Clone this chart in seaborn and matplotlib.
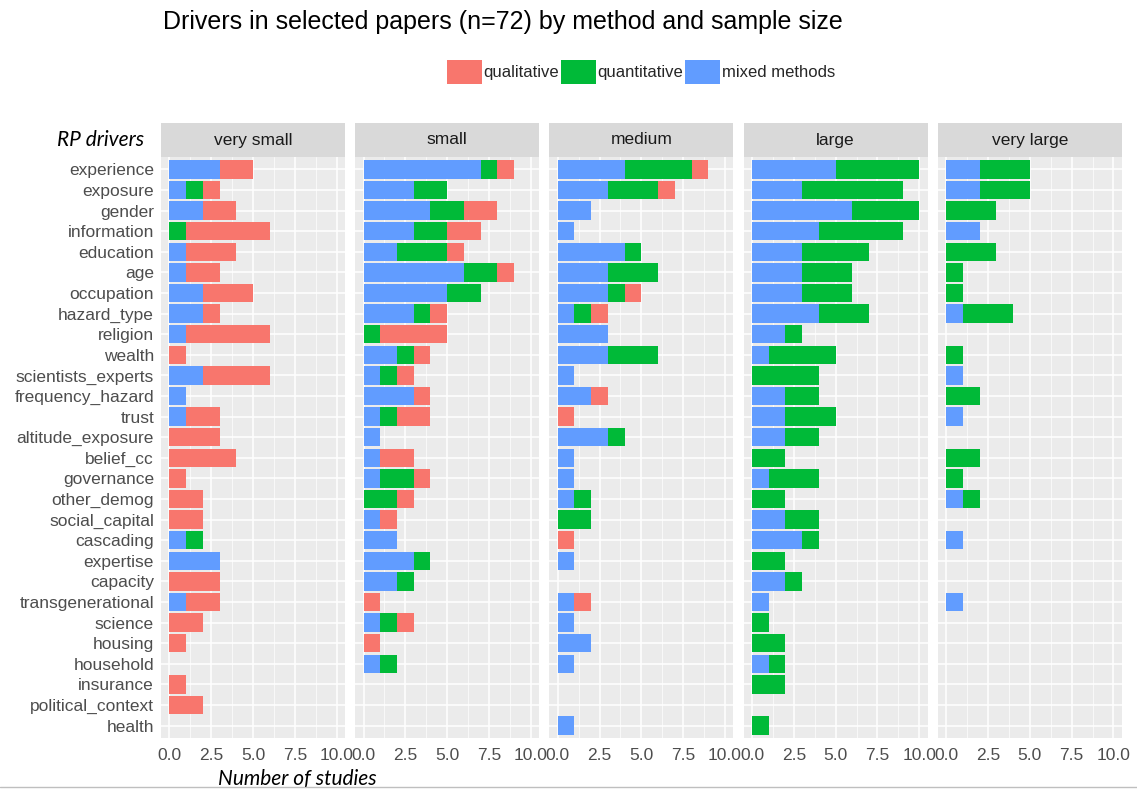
import matplotlib
matplotlib.use("Agg")
import matplotlib.pyplot as plt
import seaborn as sns
import pandas as pd
from matplotlib.patches import Patch
from matplotlib.lines import Line2D
from matplotlib.ticker import MultipleLocator

# categories
drivers = ['experience', 'exposure', 'gender', 'information', 'education', 'age',
           'occupation', 'hazard_type', 'religion', 'wealth', 'scientists_experts',
           'frequency_hazard', 'trust', 'altitude_exposure', 'belief_cc', 'governance',
           'other_demog', 'social_capital', 'cascading', 'expertise', 'capacity',
           'transgenerational', 'science', 'housing', 'household', 'insurance',
           'political_context', 'health']
sizes = ['very small', 'small', 'medium', 'large', 'very large']
methods = ['qualitative', 'quantitative', 'mixed methods']
x_ticks = [0.0, 2.5, 5.0, 7.5, 10.0]

# number of studies per driver (same order as drivers)
vsmall_mixed = [3, 1, 2, 0, 1, 1, 2, 2, 1, 0, 2, 1, 1, 0, 0, 0, 0, 0, 1, 3, 0, 1, 0, 0, 0, 0, 0, 0]
vsmall_quant = [0, 1, 0, 1, 0, 0, 0, 0, 0, 0, 0, 0, 0, 0, 0, 0, 0, 0, 1, 0, 0, 0, 0, 0, 0, 0, 0, 0]
vsmall_qual  = [2, 1, 2, 5, 3, 2, 3, 1, 5, 1, 4, 0, 2, 3, 4, 1, 2, 2, 0, 0, 3, 2, 2, 1, 0, 1, 2, 0]

small_mixed = [7, 3, 4, 3, 2, 6, 5, 3, 0, 2, 1, 3, 1, 1, 1, 1, 0, 1, 2, 3, 2, 0, 1, 0, 1, 0, 0, 0]
small_quant = [1, 2, 2, 2, 3, 2, 2, 1, 1, 1, 1, 0, 1, 0, 0, 2, 2, 0, 0, 1, 1, 0, 1, 0, 1, 0, 0, 0]
small_qual  = [1, 0, 2, 2, 1, 1, 0, 1, 4, 1, 1, 1, 2, 0, 2, 1, 1, 1, 0, 0, 0, 1, 1, 1, 0, 0, 0, 0]

medium_mixed = [4, 3, 2, 1, 4, 3, 3, 1, 3, 3, 1, 2, 0, 3, 1, 1, 1, 0, 0, 1, 0, 1, 1, 2, 1, 0, 0, 1]
medium_quant = [4, 3, 0, 0, 1, 3, 1, 1, 0, 3, 0, 0, 0, 1, 0, 0, 1, 2, 0, 0, 0, 0, 0, 0, 0, 0, 0, 0]
medium_qual  = [1, 1, 0, 0, 0, 0, 1, 1, 0, 0, 0, 1, 1, 0, 0, 0, 0, 0, 1, 0, 0, 1, 0, 0, 0, 0, 0, 0]

large_mixed = [5, 3, 6, 4, 3, 3, 3, 4, 2, 1, 0, 2, 2, 2, 0, 1, 0, 2, 3, 0, 2, 1, 0, 0, 1, 0, 0, 0]
large_quant = [5, 6, 4, 5, 4, 3, 3, 3, 1, 4, 4, 2, 3, 2, 2, 3, 2, 2, 1, 2, 1, 0, 1, 2, 1, 2, 0, 1]
large_qual  = [0] * 28

vlarge_mixed = [2, 2, 0, 2, 0, 0, 0, 1, 0, 0, 1, 0, 1, 0, 0, 0, 1, 0, 1, 0, 0, 1, 0, 0, 0, 0, 0, 0]
vlarge_quant = [3, 3, 3, 0, 3, 1, 1, 3, 0, 1, 0, 2, 0, 0, 2, 1, 1, 0, 0, 0, 0, 0, 0, 0, 0, 0, 0, 0]
vlarge_qual  = [0] * 28

colors = {'qualitative': '#F8766D', 'quantitative': '#00BA38', 'mixed methods': '#619CFF'}

per_size = {
    'very small': (vsmall_mixed, vsmall_quant, vsmall_qual),
    'small': (small_mixed, small_quant, small_qual),
    'medium': (medium_mixed, medium_quant, medium_qual),
    'large': (large_mixed, large_quant, large_qual),
    'very large': (vlarge_mixed, vlarge_quant, vlarge_qual),
}

rows = []
for size in sizes:
    mx, qn, ql = per_size[size]
    for i, d in enumerate(drivers):
        rows.append({'size': size, 'driver': d, 'mixed': mx[i],
                     'mixed_quant': mx[i] + qn[i],
                     'total': mx[i] + qn[i] + ql[i]})
df = pd.DataFrame(rows)

sns.set_theme(style='darkgrid')
plt.rcParams['font.family'] = ['Liberation Sans', 'DejaVu Sans']

W, H = 1137, 791
fig = plt.figure(figsize=(W / 100, H / 100), dpi=100)

panel_w = 184
panel_top, panel_bot = 157, 738
strip_h = 34

for k, size in enumerate(sizes):
    left = 161 + 194.2 * k
    ax = fig.add_axes([left / W, 1 - panel_bot / H, panel_w / W, (panel_bot - panel_top) / H])
    sub = df[df['size'] == size]

    # stacked: draw cumulative totals back to front
    for col, method in [('total', 'qualitative'), ('mixed_quant', 'quantitative'), ('mixed', 'mixed methods')]:
        sns.barplot(data=sub, x=col, y='driver', order=drivers, orient='h',
                    color=colors[method], width=0.9, linewidth=0, saturation=1,
                    errorbar=None, ax=ax)

    ax.set_facecolor('#EBEBEB')
    ax.set_xlim(-0.5, 10.5)
    ax.set_ylim(len(drivers) - 0.4, -0.6)
    ax.set_xticks(x_ticks)
    ax.set_xticklabels([f'{t:.1f}' for t in x_ticks])
    ax.xaxis.set_minor_locator(MultipleLocator(1.25))
    ax.set_axisbelow(True)
    ax.grid(True, which='major', color='white', linewidth=1.1)
    ax.grid(True, which='minor', axis='x', color='white', linewidth=0.5)
    ax.set_xlabel('')
    ax.set_ylabel('')
    for s in ax.spines.values():
        s.set_visible(False)
    ax.tick_params(which='minor', length=0)
    ax.tick_params(axis='x', length=3, width=1, color='#333333', labelsize=12.5,
                   labelcolor='#4D4D4D', pad=4)
    if k == 0:
        ax.tick_params(axis='y', length=3, width=1, color='#333333', labelsize=12.5,
                       labelcolor='#4D4D4D', pad=2)
    else:
        ax.tick_params(axis='y', length=0, labelleft=False)

    # facet strip
    sax = fig.add_axes([left / W, 1 - panel_top / H, panel_w / W, strip_h / H])
    sax.set_facecolor('#D9D9D9')
    sax.set_xticks([])
    sax.set_yticks([])
    for s in sax.spines.values():
        s.set_visible(False)
    sax.text(0.5, 0.5, size, ha='center', va='center', fontsize=12.5, color='#1A1A1A',
             transform=sax.transAxes)

fig.text(163 / W, 1 - 22 / H, 'Drivers in selected papers (n=72) by method and sample size',
         ha='left', va='center', fontsize=18, color='black')

handles = [Patch(facecolor=colors[m], edgecolor='none') for m in methods]
fig.legend(handles, methods, loc='center', bbox_to_anchor=(641 / W, 1 - 72 / H),
           ncol=3, frameon=False, fontsize=12, handlelength=2.1, handleheight=1.8,
           handletextpad=0.1, columnspacing=0.1, borderaxespad=0)

fig.text(101 / W, 1 - 140 / H, 'RP drivers', ha='center', va='center', fontsize=15,
         style='italic', family='Lato', color='black')
fig.text(297 / W, 1 - 779 / H, 'Number of studies', ha='center', va='center', fontsize=15,
         style='italic', family='Lato', color='black')
fig.add_artist(Line2D([0, 1], [1 - 787 / H, 1 - 787 / H], color='#BFBFBF', linewidth=1))

fig.savefig('out.png', dpi=100, facecolor='white')
